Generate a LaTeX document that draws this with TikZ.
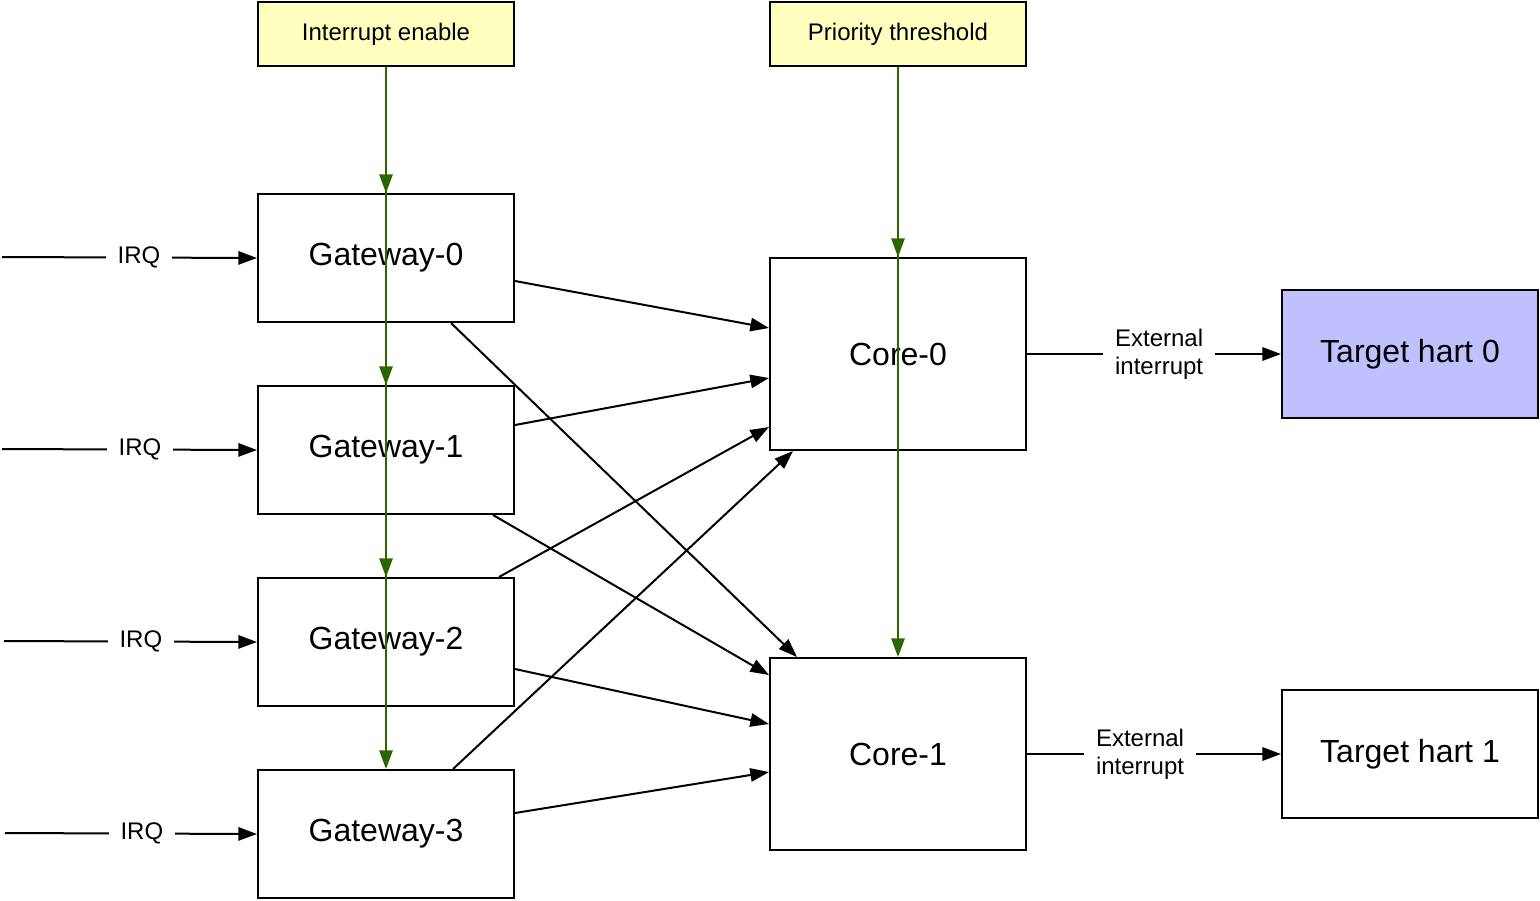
\documentclass[tikz,border=0pt]{standalone}
\usepackage{fontspec}
\setmainfont{Liberation Sans}
\usetikzlibrary{arrows.meta,calc}
\definecolor{ieyellow}{HTML}{FFFFC0}
\definecolor{hartblue}{HTML}{C0C0FF}
\definecolor{grn}{HTML}{2D6600}
\begin{document}
\begin{tikzpicture}[x=0.75pt,y=-0.75pt,
  box/.style={draw, line width=1.5pt, fill=white, minimum width=192pt, minimum height=96pt, inner sep=0pt, anchor=north west, font=\fontsize{24}{28}\selectfont},
  corebox/.style={box, minimum height=144pt},
  regbox/.style={box, fill=ieyellow, minimum height=48pt, font=\fontsize{18}{21}\selectfont},
  conn/.style={line width=1.5pt, -{Triangle[length=14pt,width=10pt]}},
  gconn/.style={conn, draw=grn, -{Triangle[length=14pt,width=10pt,fill=grn]}},
  lbl/.style={fill=white, inner sep=0pt, inner xsep=9pt, align=center, font=\fontsize{18}{21}\selectfont}]
\useasboundingbox (0,0) rectangle (1540,900);
% boxes
\node[regbox] (ie) at (257,1) {Interrupt enable};
\node[regbox] (pt) at (769,1) {Priority threshold};
\node[box] (g0) at (257,193) {Gateway-0};
\node[box] (g1) at (257,385) {Gateway-1};
\node[box] (g2) at (257,577) {Gateway-2};
\node[box] (g3) at (257,769) {Gateway-3};
\node[corebox] (c0) at (769,257) {Core-0};
\node[corebox] (c1) at (769,657) {Core-1};
\node[box, fill=hartblue] (h0) at (1281,289) {Target hart 0};
\node[box] (h1) at (1281,689) {Target hart 1};
% IRQ inputs
\coordinate (s0) at (2,257);
\coordinate (s1) at (2,449);
\coordinate (s2) at (4,641);
\coordinate (s3) at (5,833);
\draw[conn] (s0) -- node[lbl, pos=0.537] {IRQ} (g0.west);
\draw[conn] (s1) -- node[lbl, pos=0.541] {IRQ} (g1.west);
\draw[conn] (s2) -- node[lbl, pos=0.541] {IRQ} (g2.west);
\draw[conn] (s3) -- node[lbl, pos=0.543] {IRQ} (g3.west);
% gateway to core connections
\draw[conn] ($(g0.north east)+(0,88)$) -- ($(c0.north west)+(0,71)$);
\draw[conn] ($(g0.south west)+(194,0)$) -- ($(c1.north west)+(28,0)$);
\draw[conn] ($(g1.north east)+(0,40)$) -- ($(c0.north west)+(0,121)$);
\draw[conn] ($(g1.south west)+(236,0)$) -- ($(c1.north west)+(0,18)$);
\draw[conn] ($(g2.north west)+(242,0)$) -- ($(c0.north west)+(0,170)$);
\draw[conn] ($(g2.north east)+(0,92)$) -- ($(c1.north west)+(0,67)$);
\draw[conn] ($(g3.north west)+(196,0)$) -- ($(c0.south west)+(24,0)$);
\draw[conn] ($(g3.north east)+(0,44)$) -- ($(c1.north west)+(0,115)$);
% core to harts
\draw[conn] (c0.east) -- node[lbl, pos=0.52] {External\\interrupt} (h0.west);
\draw[conn] (c1.east) -- node[lbl, pos=0.445] {External\\interrupt} (h1.west);
% green control lines
\draw[gconn] (ie.south) -- (g0.north);
\draw[gconn] (ie.south) -- (g1.north);
\draw[gconn] (ie.south) -- (g2.north);
\draw[gconn] (ie.south) -- (g3.north);
\draw[gconn] (pt.south) -- (c0.north);
\draw[gconn] (pt.south) -- (c1.north);
\end{tikzpicture}
\end{document}
